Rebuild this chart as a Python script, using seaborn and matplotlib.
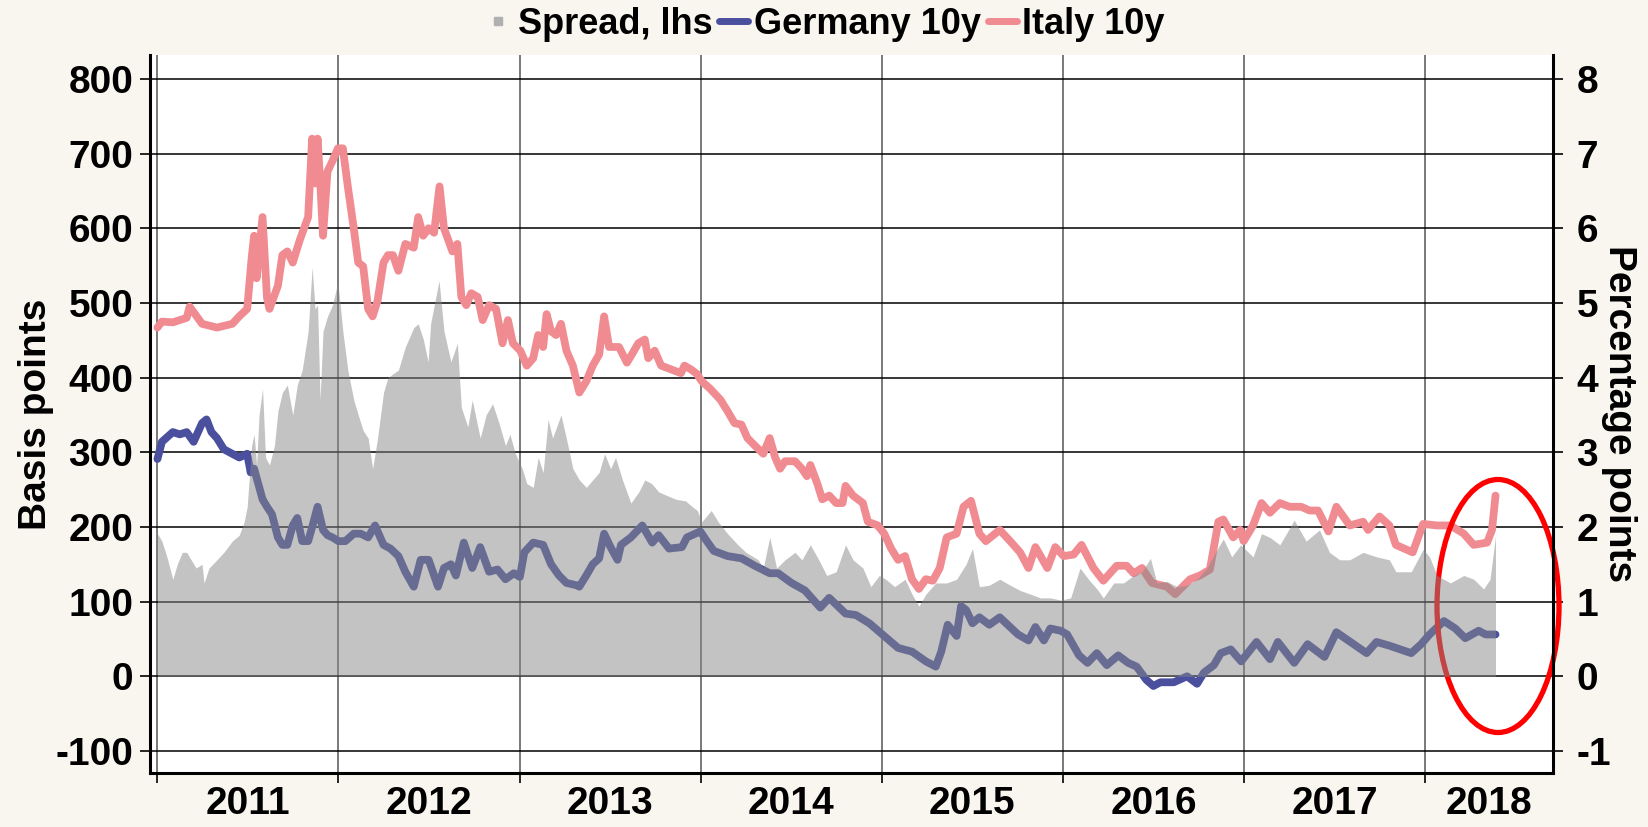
import pandas as pd
import matplotlib
matplotlib.use('Agg')
import matplotlib.pyplot as plt
import matplotlib.dates as mdates
from matplotlib.ticker import FixedLocator, FixedFormatter, NullFormatter
from matplotlib.lines import Line2D
from matplotlib.patches import Ellipse
import seaborn as sns

# Spread Italy-Germany, basis points (left axis)
spread_dates = [
    "2011-01-01", "2011-01-10", "2011-01-20", "2011-02-01", "2011-02-10", "2011-02-20", "2011-03-01", "2011-03-10",
    "2011-03-20", "2011-04-01", "2011-04-05", "2011-04-15", "2011-05-01", "2011-05-15", "2011-06-01", "2011-06-15",
    "2011-06-25", "2011-07-01", "2011-07-10", "2011-07-15", "2011-07-20", "2011-07-25", "2011-08-01", "2011-08-07",
    "2011-08-15", "2011-08-25", "2011-09-01", "2011-09-10", "2011-09-20", "2011-10-01", "2011-10-10", "2011-10-20",
    "2011-11-01", "2011-11-09", "2011-11-15", "2011-11-20", "2011-11-25", "2011-12-01", "2011-12-10", "2011-12-20",
    "2011-12-31", "2012-01-10", "2012-01-20", "2012-02-01", "2012-02-10", "2012-02-20", "2012-03-01", "2012-03-10",
    "2012-03-20", "2012-04-01", "2012-04-10", "2012-04-20", "2012-05-01", "2012-05-15", "2012-06-01", "2012-06-10",
    "2012-06-20", "2012-06-30", "2012-07-05", "2012-07-22", "2012-08-01", "2012-08-15", "2012-08-28", "2012-09-05",
    "2012-09-18", "2012-09-27", "2012-10-13", "2012-10-25", "2012-11-07", "2012-11-20", "2012-12-03", "2012-12-12",
    "2012-12-23", "2013-01-06", "2013-01-15", "2013-01-28", "2013-02-07", "2013-02-17", "2013-02-27", "2013-03-08",
    "2013-03-25", "2013-04-08", "2013-04-18", "2013-05-01", "2013-05-15", "2013-05-28", "2013-06-10", "2013-06-21",
    "2013-07-03", "2013-07-13", "2013-07-27", "2013-08-13", "2013-08-29", "2013-09-10", "2013-09-24", "2013-10-08",
    "2013-10-25", "2013-11-12", "2013-12-01", "2013-12-15", "2013-12-25", "2014-01-03", "2014-01-22", "2014-02-05",
    "2014-02-24", "2014-03-17", "2014-04-02", "2014-04-27", "2014-05-07", "2014-05-20", "2014-06-03", "2014-06-20",
    "2014-07-10", "2014-07-24", "2014-08-10", "2014-08-27", "2014-09-12", "2014-10-01", "2014-10-20", "2014-11-04",
    "2014-11-24", "2014-12-10", "2014-12-27", "2015-01-09", "2015-01-27", "2015-02-17", "2015-03-03", "2015-03-17",
    "2015-03-31", "2015-04-20", "2015-05-12", "2015-06-01", "2015-06-20", "2015-07-03", "2015-07-17", "2015-08-06",
    "2015-08-27", "2015-09-17", "2015-10-07", "2015-10-28", "2015-11-17", "2015-12-07", "2015-12-28", "2016-01-17",
    "2016-02-05", "2016-02-22", "2016-03-10", "2016-03-23", "2016-04-13", "2016-05-03", "2016-05-23", "2016-06-09",
    "2016-06-26", "2016-07-09", "2016-07-29", "2016-08-19", "2016-09-08", "2016-09-28", "2016-10-18", "2016-11-04",
    "2016-11-20", "2016-12-07", "2016-12-25", "2017-01-19", "2017-02-05", "2017-02-22", "2017-03-14", "2017-04-12",
    "2017-05-06", "2017-06-02", "2017-06-22", "2017-07-13", "2017-08-02", "2017-08-29", "2017-09-25", "2017-10-21",
    "2017-11-03", "2017-12-04", "2017-12-28", "2018-01-10", "2018-01-25", "2018-02-21", "2018-03-20", "2018-04-09",
    "2018-04-29", "2018-05-12", "2018-05-23",
]
spread_bp = [
    191, 181, 160, 130, 150, 166, 166, 156,
    145, 150, 125, 145, 156, 166, 181, 189,
    207, 227, 309, 324, 283, 350, 385, 293,
    283, 309, 355, 380, 390, 350, 390, 410,
    462, 548, 492, 497, 370, 462, 482, 497,
    528, 462, 410, 370, 350, 329, 319, 278,
    319, 380, 400, 405, 410, 441, 467, 472,
    452, 421, 472, 530, 462, 421, 446, 360,
    334, 370, 319, 350, 365, 339, 309, 324,
    298, 278, 258, 253, 293, 273, 344, 319,
    350, 309, 278, 263, 253, 263, 273, 298,
    278, 293, 263, 232, 247, 263, 258, 247,
    242, 237, 235, 227, 222, 207, 222, 207,
    191, 176, 166, 156, 145, 186, 145, 156,
    166, 156, 176, 156, 135, 140, 176, 156,
    145, 120, 135, 130, 120, 130, 110, 94,
    110, 125, 125, 130, 150, 171, 120, 122,
    130, 122, 115, 110, 105, 105, 102, 105,
    145, 130, 117, 105, 125, 125, 135, 140,
    158, 125, 127, 120, 122, 130, 145, 166,
    184, 160, 176, 160, 191, 186, 176, 209,
    181, 196, 166, 156, 156, 166, 160, 156,
    140, 140, 170, 160, 135, 125, 135, 130,
    117, 130, 188,
]

# Germany 10y yield, percent (right axis)
germany_dates = [
    "2011-01-01", "2011-01-10", "2011-02-01", "2011-02-15", "2011-03-01", "2011-03-15", "2011-04-01", "2011-04-10",
    "2011-04-20", "2011-05-01", "2011-05-15", "2011-06-01", "2011-06-15", "2011-07-01", "2011-07-08", "2011-07-15",
    "2011-08-01", "2011-08-10", "2011-08-20", "2011-09-01", "2011-09-10", "2011-09-20", "2011-10-01", "2011-10-10",
    "2011-10-20", "2011-11-01", "2011-11-10", "2011-11-20", "2011-12-01", "2011-12-10", "2011-12-20", "2012-01-01",
    "2012-01-15", "2012-02-01", "2012-02-15", "2012-03-01", "2012-03-15", "2012-04-01", "2012-04-15", "2012-05-01",
    "2012-05-15", "2012-06-01", "2012-06-15", "2012-07-01", "2012-07-20", "2012-08-01", "2012-08-15", "2012-08-25",
    "2012-09-10", "2012-09-27", "2012-10-13", "2012-10-31", "2012-11-17", "2012-12-03", "2012-12-20", "2013-01-01",
    "2013-01-10", "2013-01-28", "2013-02-17", "2013-03-05", "2013-03-21", "2013-04-05", "2013-04-25", "2013-05-01",
    "2013-05-15", "2013-05-28", "2013-06-10", "2013-06-20", "2013-07-03", "2013-07-17", "2013-07-24", "2013-08-13",
    "2013-09-05", "2013-09-25", "2013-10-08", "2013-10-29", "2013-11-24", "2013-12-04", "2013-12-31", "2014-01-10",
    "2014-01-27", "2014-02-24", "2014-03-24", "2014-04-20", "2014-05-20", "2014-06-06", "2014-07-03", "2014-07-30",
    "2014-08-30", "2014-09-17", "2014-10-20", "2014-11-10", "2014-12-07", "2015-01-06", "2015-02-03", "2015-03-03",
    "2015-03-31", "2015-04-20", "2015-05-01", "2015-05-14", "2015-06-01", "2015-06-10", "2015-06-20", "2015-07-03",
    "2015-07-17", "2015-08-06", "2015-08-27", "2015-09-17", "2015-10-03", "2015-10-24", "2015-11-07", "2015-11-24",
    "2015-12-07", "2015-12-28", "2016-01-10", "2016-02-03", "2016-02-20", "2016-03-10", "2016-03-30", "2016-04-22",
    "2016-05-12", "2016-05-29", "2016-06-18", "2016-07-02", "2016-07-16", "2016-08-12", "2016-09-08", "2016-09-28",
    "2016-10-12", "2016-11-01", "2016-11-15", "2016-12-05", "2016-12-26", "2017-01-26", "2017-02-22", "2017-03-10",
    "2017-04-12", "2017-05-09", "2017-06-12", "2017-07-06", "2017-07-30", "2017-09-05", "2017-09-25", "2017-10-21",
    "2017-12-04", "2017-12-24", "2018-01-10", "2018-02-08", "2018-03-03", "2018-03-23", "2018-04-19", "2018-05-03",
    "2018-05-23",
]
germany_pct = [
    2.91, 3.14, 3.27, 3.24, 3.27, 3.14, 3.39, 3.44,
    3.27, 3.19, 3.04, 2.98, 2.93, 2.98, 2.73, 2.78,
    2.37, 2.27, 2.17, 1.86, 1.76, 1.76, 2.02, 2.12,
    1.81, 1.81, 2.02, 2.27, 1.96, 1.89, 1.86, 1.81,
    1.81, 1.91, 1.91, 1.86, 2.02, 1.76, 1.71, 1.61,
    1.40, 1.20, 1.56, 1.56, 1.20, 1.45, 1.50, 1.35,
    1.79, 1.45, 1.73, 1.40, 1.43, 1.30, 1.38, 1.33,
    1.66, 1.79, 1.76, 1.50, 1.35, 1.25, 1.22, 1.20,
    1.35, 1.50, 1.58, 1.91, 1.73, 1.56, 1.76, 1.86,
    2.02, 1.79, 1.89, 1.71, 1.73, 1.86, 1.94, 1.84,
    1.68, 1.61, 1.58, 1.48, 1.38, 1.38, 1.25, 1.15,
    0.92, 1.05, 0.84, 0.82, 0.71, 0.54, 0.38, 0.33,
    0.20, 0.13, 0.33, 0.69, 0.54, 0.94, 0.89, 0.71,
    0.79, 0.69, 0.79, 0.66, 0.56, 0.48, 0.66, 0.48,
    0.64, 0.61, 0.56, 0.28, 0.18, 0.31, 0.15, 0.28,
    0.18, 0.13, -0.05, -0.13, -0.08, -0.08, 0.00, -0.10,
    0.05, 0.15, 0.31, 0.36, 0.20, 0.46, 0.23, 0.46,
    0.18, 0.43, 0.26, 0.59, 0.48, 0.31, 0.46, 0.41,
    0.31, 0.43, 0.56, 0.74, 0.64, 0.51, 0.61, 0.56,
    0.56,
]

# Italy 10y yield, percent (right axis)
italy_dates = [
    "2011-01-01", "2011-01-10", "2011-02-01", "2011-03-01", "2011-03-07", "2011-04-01", "2011-05-01", "2011-06-01",
    "2011-06-15", "2011-07-01", "2011-07-10", "2011-07-15", "2011-07-20", "2011-08-01", "2011-08-10", "2011-08-15",
    "2011-09-01", "2011-09-10", "2011-09-20", "2011-10-01", "2011-10-15", "2011-11-01", "2011-11-09", "2011-11-15",
    "2011-11-20", "2011-11-25", "2011-12-01", "2011-12-10", "2011-12-20", "2011-12-31", "2012-01-10", "2012-01-20",
    "2012-02-01", "2012-02-10", "2012-02-20", "2012-03-01", "2012-03-10", "2012-03-20", "2012-04-01", "2012-04-10",
    "2012-04-20", "2012-05-01", "2012-05-15", "2012-06-01", "2012-06-10", "2012-06-20", "2012-07-01", "2012-07-12",
    "2012-07-23", "2012-08-01", "2012-08-18", "2012-08-28", "2012-09-05", "2012-09-15", "2012-09-25", "2012-10-08",
    "2012-10-18", "2012-10-31", "2012-11-14", "2012-11-27", "2012-12-08", "2012-12-18", "2013-01-02", "2013-01-15",
    "2013-01-28", "2013-02-07", "2013-02-17", "2013-02-24", "2013-03-05", "2013-03-15", "2013-03-25", "2013-04-05",
    "2013-04-18", "2013-05-01", "2013-05-15", "2013-05-28", "2013-06-10", "2013-06-20", "2013-06-30", "2013-07-20",
    "2013-08-05", "2013-08-15", "2013-08-28", "2013-09-10", "2013-09-17", "2013-09-30", "2013-10-13", "2013-11-02",
    "2013-11-22", "2013-11-29", "2013-12-12", "2013-12-24", "2014-01-03", "2014-01-20", "2014-02-10", "2014-02-24",
    "2014-03-10", "2014-03-24", "2014-04-05", "2014-04-20", "2014-05-07", "2014-05-20", "2014-05-31", "2014-06-10",
    "2014-06-20", "2014-07-10", "2014-07-24", "2014-08-03", "2014-08-10", "2014-08-24", "2014-09-03", "2014-09-17",
    "2014-10-01", "2014-10-14", "2014-10-20", "2014-11-04", "2014-11-24", "2014-12-04", "2014-12-24", "2015-01-06",
    "2015-01-20", "2015-02-03", "2015-02-17", "2015-03-03", "2015-03-17", "2015-03-31", "2015-04-14", "2015-04-28",
    "2015-05-12", "2015-06-01", "2015-06-15", "2015-06-30", "2015-07-17", "2015-07-30", "2015-08-27", "2015-09-17",
    "2015-10-07", "2015-10-24", "2015-11-07", "2015-12-01", "2015-12-17", "2016-01-03", "2016-01-23", "2016-02-08",
    "2016-03-03", "2016-03-23", "2016-04-19", "2016-05-09", "2016-05-23", "2016-06-09", "2016-06-29", "2016-07-29",
    "2016-08-15", "2016-09-14", "2016-10-04", "2016-10-24", "2016-11-10", "2016-11-20", "2016-12-10", "2016-12-24",
    "2016-12-31", "2017-01-19", "2017-02-05", "2017-02-22", "2017-03-14", "2017-04-03", "2017-04-26", "2017-05-13",
    "2017-05-30", "2017-06-20", "2017-07-06", "2017-08-02", "2017-08-29", "2017-09-08", "2017-10-01", "2017-10-21",
    "2017-11-03", "2017-12-07", "2017-12-28", "2018-01-25", "2018-02-21", "2018-03-20", "2018-04-09", "2018-05-06",
    "2018-05-16", "2018-05-23",
]
italy_pct = [
    4.67, 4.75, 4.74, 4.80, 4.95, 4.72, 4.67, 4.72,
    4.82, 4.92, 5.60, 5.90, 5.33, 6.15, 5.07, 4.92,
    5.23, 5.64, 5.69, 5.54, 5.84, 6.15, 7.20, 6.60,
    7.20, 6.66, 5.90, 6.76, 6.90, 7.07, 7.07, 6.56,
    6.00, 5.54, 5.49, 4.92, 4.82, 5.03, 5.54, 5.64,
    5.64, 5.43, 5.79, 5.74, 6.15, 5.90, 6.00, 5.94,
    6.56, 6.00, 5.69, 5.79, 5.08, 4.97, 5.13, 5.08,
    4.77, 4.97, 4.92, 4.46, 4.77, 4.46, 4.36, 4.16,
    4.26, 4.57, 4.41, 4.85, 4.62, 4.57, 4.72, 4.36,
    4.16, 3.80, 3.95, 4.16, 4.31, 4.82, 4.41, 4.41,
    4.20, 4.31, 4.46, 4.51, 4.26, 4.36, 4.16, 4.11,
    4.06, 4.16, 4.11, 4.05, 3.95, 3.85, 3.70, 3.55,
    3.39, 3.37, 3.19, 3.09, 2.98, 3.19, 2.93, 2.78,
    2.88, 2.88, 2.78, 2.68, 2.83, 2.58, 2.37, 2.42,
    2.32, 2.32, 2.55, 2.42, 2.32, 2.07, 2.02, 1.91,
    1.71, 1.56, 1.61, 1.30, 1.17, 1.30, 1.28, 1.45,
    1.86, 1.91, 2.27, 2.35, 1.91, 1.81, 1.96, 1.81,
    1.66, 1.45, 1.73, 1.45, 1.73, 1.61, 1.63, 1.76,
    1.45, 1.28, 1.48, 1.48, 1.38, 1.45, 1.25, 1.20,
    1.10, 1.30, 1.35, 1.43, 2.07, 2.10, 1.86, 1.96,
    1.81, 2.02, 2.32, 2.19, 2.32, 2.27, 2.27, 2.22,
    2.22, 1.94, 2.27, 2.02, 2.07, 1.96, 2.14, 2.02,
    1.76, 1.66, 2.04, 2.02, 2.02, 1.91, 1.76, 1.79,
    1.96, 2.42,
]

year_labels = ["2011", "2012", "2013", "2014", "2015", "2016", "2017", "2018"]
bp_ticks = [-100, 0, 100, 200, 300, 400, 500, 600, 700, 800]
pct_ticks = [-1, 0, 1, 2, 3, 4, 5, 6, 7, 8]

spread = pd.DataFrame({"date": pd.to_datetime(spread_dates), "bp": spread_bp})
germany = pd.DataFrame({"date": pd.to_datetime(germany_dates), "pct": germany_pct})
italy = pd.DataFrame({"date": pd.to_datetime(italy_dates), "pct": italy_pct})

sns.set_style("white")
plt.rcParams["font.family"] = ["Liberation Sans", "DejaVu Sans"]
plt.rcParams["font.weight"] = "bold"
plt.rcParams["axes.labelweight"] = "bold"
plt.rcParams["axes.unicode_minus"] = False
for k in ["text.color", "axes.labelcolor", "xtick.color", "ytick.color"]:
    plt.rcParams[k] = "black"

BG = "#f9f5ef"
BLUE = "#4b509e"
PINK = "#f08c91"
FS = 28

fig = plt.figure(figsize=(16.48, 8.27), dpi=100, facecolor=BG)
ax = fig.add_axes([150 / 1648, 54 / 827, 1403 / 1648, 718 / 827])
ax2 = ax.twinx()

# lines go on the bottom (right-hand, percent) axes, the spread area is laid over them
ax.set_zorder(ax2.get_zorder() + 1)
ax.patch.set_visible(False)
ax2.patch.set_visible(True)
ax2.patch.set_facecolor("white")

sns.lineplot(data=germany, x="date", y="pct", ax=ax2, color=BLUE, lw=5.6, estimator=None)
sns.lineplot(data=italy, x="date", y="pct", ax=ax2, color=PINK, lw=5.6, estimator=None)
ax.fill_between(spread["date"], 0, spread["bp"], color="#888888", alpha=0.5, lw=0)

xmin, xmax = pd.Timestamp("2010-12-17"), pd.Timestamp("2018-09-16")
ax.set_xlim(xmin, xmax)
ax.set_ylim(-129.5, 832)
ax2.set_ylim(-1.295, 8.32)

year_starts = [pd.Timestamp(f"{y}-01-01") for y in year_labels]
mids = []
for y in year_labels:
    a = max(pd.Timestamp(f"{y}-01-01"), xmin)
    b = min(pd.Timestamp(f"{int(y) + 1}-01-01"), xmax)
    mids.append(a + (b - a) / 2)

ax.xaxis.set_major_locator(FixedLocator(mdates.date2num(year_starts)))
ax.xaxis.set_major_formatter(NullFormatter())
ax.xaxis.set_minor_locator(FixedLocator(mdates.date2num(mids)))
ax.xaxis.set_minor_formatter(FixedFormatter(year_labels))
ax.tick_params(axis="x", which="major", direction="out", length=7, width=1.2, color="black", bottom=True)
ax.tick_params(axis="x", which="minor", length=0, pad=9, labelsize=FS, bottom=True)

ax.set_yticks(bp_ticks)
ax.tick_params(axis="y", direction="out", length=7, width=1.2, color="black", labelsize=FS, pad=5, left=True)
ax2.set_yticks(pct_ticks)
ax2.tick_params(axis="y", direction="out", length=7, width=1.2, color="black", labelsize=FS, pad=10, right=True)

ax2.xaxis.set_visible(True)
ax2.tick_params(axis="x", which="both", length=0, labelbottom=False)
ax2.grid(axis="x", which="major", color="#555555", lw=1.1)
ax2.grid(axis="y", color="black", lw=1.1)
ax.grid(False)
ax2.set_axisbelow(True)

for s in ax2.spines.values():
    s.set_visible(False)
for side in ["left", "bottom", "right"]:
    ax.spines[side].set_visible(True)
    ax.spines[side].set_color("black")
    ax.spines[side].set_linewidth(2.2)
ax.spines["top"].set_visible(False)

ax.set_xlabel("")
ax2.set_xlabel("")
ax.set_ylabel("Basis points", fontsize=FS, va="center")
ax.yaxis.set_label_coords(-0.081, 0.5)
ax2.set_ylabel("Percentage points", fontsize=FS, rotation=270, va="center")
ax2.yaxis.set_label_coords(1.047, 0.5)

handles = [
    Line2D([], [], marker="s", ls="none", color="#b0b0b0", markersize=6),
    Line2D([], [], color=BLUE, lw=5),
    Line2D([], [], color=PINK, lw=5),
]
fig.legend(handles, ["Spread, lhs", "Germany 10y", "Italy 10y"], loc="upper center",
           bbox_to_anchor=(0.5, 1.018), ncol=3, frameon=False, handlelength=0.8,
           handletextpad=0.15, columnspacing=0.2, borderaxespad=0.2,
           prop={"family": ["Liberation Sans"], "weight": "bold", "size": 26})

fig.add_artist(Ellipse((1498 / 1648, 1 - 606 / 827), 122 / 1648, 253 / 827,
                       transform=fig.transFigure, fill=False, edgecolor="#ff0000", lw=3.8))

fig.savefig("out.png", dpi=100, facecolor=BG)
